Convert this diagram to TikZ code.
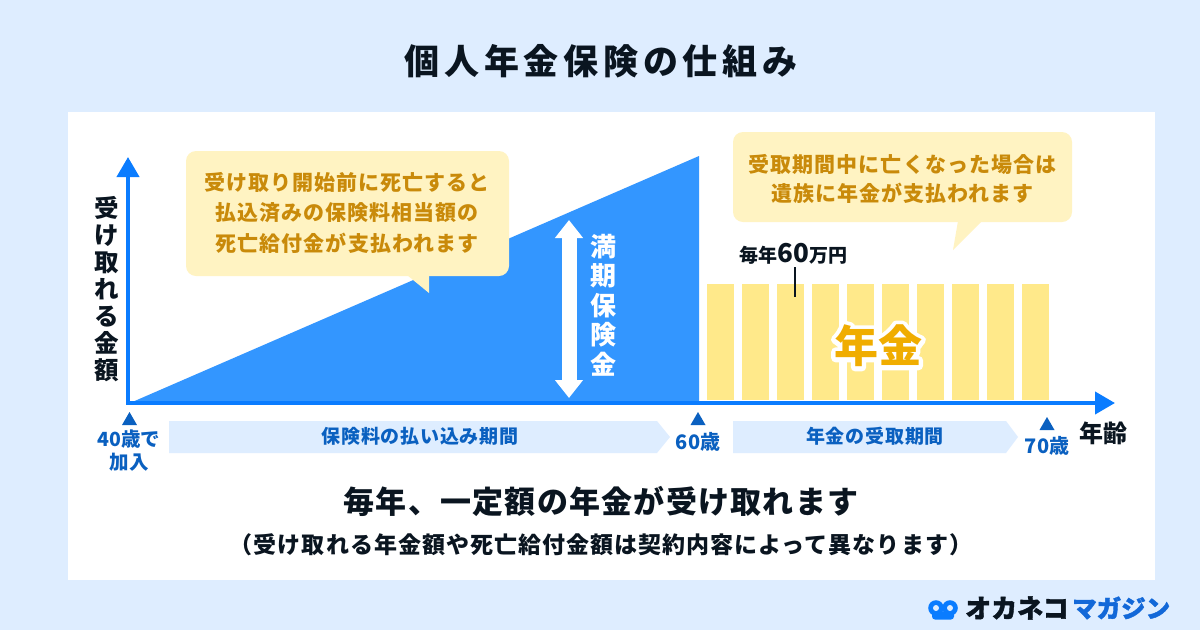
\documentclass[tikz,border=0pt]{standalone}
\usepackage{fontspec}
\setmainfont{Noto Sans CJK JP}
\usepackage{tikz}
\usetikzlibrary{positioning}
\usetikzlibrary{arrows.meta}
\definecolor{pagebg}{HTML}{DEEDFF}
\definecolor{axisblue}{HTML}{0A7CFF}
\definecolor{areablue}{HTML}{3396FF}
\definecolor{labelblue}{HTML}{0A60C0}
\definecolor{inkdark}{HTML}{0A1520}
\definecolor{noteyellow}{HTML}{FFF3C2}
\definecolor{notetext}{HTML}{C98A0A}
\definecolor{baryellow}{HTML}{FFE98A}
\definecolor{bartext}{HTML}{F0AD00}
\definecolor{logoblue}{HTML}{1268D8}
\newcommand{\jpfont}[2]{\fontsize{#1}{#1}\selectfont\bfseries\addfontfeature{LetterSpace=#2}}
\tikzset{
    pension diagram/.style={
            x=1pt,y=-1pt,
            axis/.style={line width=4pt,draw=axisblue,-{Triangle[length=20pt,width=22pt]}},
            span/.style={line width=15pt,draw=white,{Triangle[length=18pt,width=27pt]}-{Triangle[length=18pt,width=27pt]}},
            note/.style={fill=noteyellow,rounded corners=10pt},
            notetxt/.style={text=notetext,align=center,font=\jpfont{21}{5},inner sep=0pt},
            agemark/.style={fill=labelblue},
            agetxt/.style={text=labelblue,align=center,font=\jpfont{20}{0},inner sep=0pt},
            phase/.style={fill=pagebg},
            phasetxt/.style={text=labelblue,font=\jpfont{19}{4},inner sep=0pt},
            bartile/.style={fill=baryellow}
        }
    }

\begin{document}
\begin{tikzpicture}[pension diagram]
    \useasboundingbox (0,0) rectangle (1200,630);
    \fill [pagebg] (0,0) rectangle (1200,630);
    \fill [white] (68,112) rectangle (1155,580);
    \node (title) [inner sep=0pt,text=inkdark,font=\jpfont{35}{13.5}] at (601,61) {個人年金保険の仕組み};

    % area and bars
    \fill [areablue] (130,403) -- (699,156) -- (699,403) -- cycle;
    \foreach \i in {0,...,9}
        \fill [bartile] (707+35*\i,284) rectangle ++(27,116);
    \begin{scope}[line join=round]
        \pgfsetroundjoin
        \node (halo) [inner sep=0pt,text=white,font=\jpfont{44}{0}\addfontfeature{FakeBold=20}] at (878,346) {\special{pdf:literal direct 1 j}年金};
    \end{scope}
    \node (pension) [inner sep=0pt,text=bartext,font=\jpfont{44}{0}] at (878,346) {年金};

    % axes
    \coordinate (origin) at (128,403);
    \coordinate (corner) at (126,403);
    \coordinate (ytip) at (128,157);
    \coordinate (xtip) at (1115,403);
    \draw [axis] (origin) -- (ytip);
    \draw [axis] (corner) -- (xtip);
    \node (ylabel) [inner sep=0pt,text=inkdark,align=center,font=\fontsize{24.5}{27}\selectfont\bfseries] at (107,289.5)
        {受\\け\\取\\れ\\る\\金\\額};
    \node (xlabel) [inner sep=0pt,text=inkdark,font=\jpfont{24}{0}] at (1103,433) {年齢};

    % maturity amount
    \coordinate (spantop) at (569,220);
    \coordinate (spanbot) at (569,398);
    \draw [span] (spantop) -- (spanbot);
    \node (maturity) [inner sep=0pt,text=white,align=center,font=\fontsize{26}{29.5}\selectfont\bfseries] at (603,305)
        {満\\期\\保\\険\\金};

    % notes
    \fill [note] (186,151) rectangle (509,276);
    \fill [noteyellow] (407,275) -- (429,293) -- (429,275) -- cycle;
    \node (noteleft) [notetxt] at (347,212.5)
        {受け取り開始前に死亡すると\\[9.5pt]払込済みの保険料相当額の\\[9.5pt]死亡給付金が支払われます};
    \fill [note] (733,132) rectangle (1072,222);
    \fill [noteyellow] (958,221) -- (953,250) -- (982,221) -- cycle;
    \node (noteright) [notetxt] at (902.5,179)
        {受取期間中に亡くなった場合は\\[8pt]遺族に年金が支払われます};

    \node (yearly) [inner sep=0pt,text=inkdark,font=\jpfont{19}{0}] at (793.5,254)
        {毎年{\fontsize{26}{26}\selectfont 60}万円};
    \coordinate (ticktop) at (795,267);
    \coordinate (tickbot) at (795,297);
    \draw [line width=1.5pt,inkdark] (ticktop) -- (tickbot);

    % age marks
    \fill [agemark] (129.5,412) -- (137,425) -- (122,425) -- cycle;
    \fill [agemark] (698,412) -- (705.5,425) -- (690.5,425) -- cycle;
    \fill [agemark] (1047,417) -- (1054.5,430) -- (1039.5,430) -- cycle;
    \node (age40) [agetxt,font=\fontsize{19.5}{23}\selectfont\bfseries] at (129,450.5) {40歳で\\加入};
    \node (age60) [agetxt] at (698,442) {60歳};
    \node (age70) [agetxt] at (1047,446) {70歳};

    % phases
    \fill [phase] (169,421) -- (657,421) -- (670,437) -- (657,453) -- (169,453) -- cycle;
    \fill [phase] (733,421) -- (1006,421) -- (1018,437) -- (1006,453) -- (733,453) -- cycle;
    \node (paying) [phasetxt] at (420,436) {保険料の払い込み期間};
    \node (receiving) [phasetxt] at (875,436) {年金の受取期間};

    \node (summary) [inner sep=0pt,text=inkdark,font=\jpfont{31}{4}] at (601,501) {毎年、一定額の年金が受け取れます};
    \node (caveat) [inner sep=0pt,text=inkdark,font=\jpfont{23}{4.5}] at (601,545) {（受け取れる年金額や死亡給付金額は契約内容によって異なります）};

    % logo
    \fill [axisblue] (936,608) circle (7.8);
    \fill [axisblue] (950,608) circle (7.8);
    \fill [axisblue,rounded corners=3pt] (932,612) rectangle (954,619.5);
    \fill [pagebg] (936,608) circle (3);
    \fill [pagebg] (950,608) circle (3);
    \node (brandA) [inner sep=0pt,anchor=west,text=inkdark,font=\jpfont{26}{0}\addfontfeature{FakeBold=1.5}] at (965,608) {オカネコ};
    \node (brandB) [inner sep=0pt,anchor=west,text=logoblue,font=\jpfont{24.5}{0}\addfontfeature{FakeBold=1.5}] at (1072,608) {マガジン};
\end{tikzpicture}
\end{document}
